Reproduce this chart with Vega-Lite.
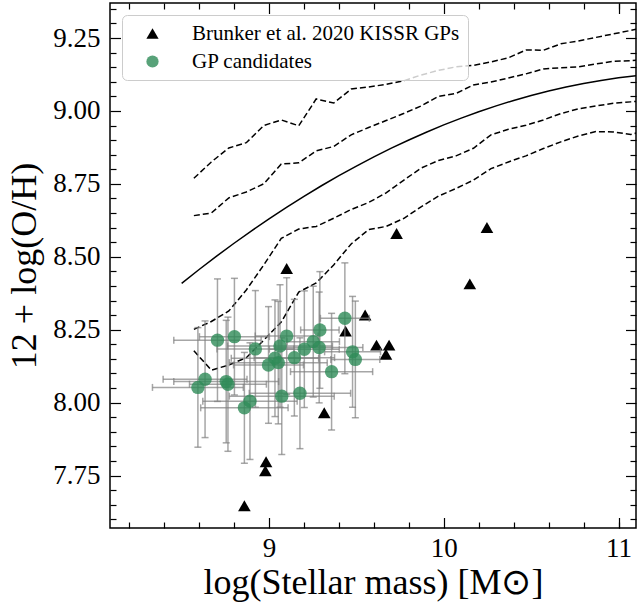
{
  "$schema": "https://vega.github.io/schema/vega-lite/v6.json",
  "width": 526,
  "height": 525,
  "autosize": {"type": "none"},
  "padding": {"left": 110, "top": 3, "right": 1, "bottom": 78},
  "background": "white",
  "config": {
    "view": {"stroke": "black", "strokeWidth": 1.5},
    "font": "Liberation Serif",
    "axis": {
      "domain": false, "grid": false,
      "labelFont": "Liberation Serif", "titleFont": "Liberation Serif",
      "labelColor": "black", "titleColor": "black", "tickColor": "black",
      "labelFontSize": 27, "titleFontSize": 36, "titleFontWeight": "normal",
      "tickWidth": 1.2
    },
    "legend": {
      "orient": "none", "legendX": 12, "legendY": 12,
      "labelFont": "Liberation Serif", "labelFontSize": 21, "labelColor": "black", "labelLimit": 500,
      "symbolSize": 150, "symbolStrokeWidth": 0,
      "padding": 8, "rowPadding": 6, "symbolOffset": 12, "labelOffset": 29,
      "fillColor": "rgba(255,255,255,0.8)", "strokeColor": "#cccccc", "cornerRadius": 5
    }
  },
  "datasets": {
    "fit": [
      {"m": 8.5, "v": 8.4087}, {"m": 8.6, "v": 8.4562}, {"m": 8.7, "v": 8.5020}, {"m": 8.8, "v": 8.5463},
      {"m": 8.9, "v": 8.5889}, {"m": 9.0, "v": 8.6299}, {"m": 9.1, "v": 8.6694}, {"m": 9.2, "v": 8.7072},
      {"m": 9.3, "v": 8.7434}, {"m": 9.4, "v": 8.7780}, {"m": 9.5, "v": 8.8110}, {"m": 9.6, "v": 8.8424},
      {"m": 9.7, "v": 8.8722}, {"m": 9.8, "v": 8.9004}, {"m": 9.9, "v": 8.9270}, {"m": 10.0, "v": 8.9520},
      {"m": 10.1, "v": 8.9754}, {"m": 10.2, "v": 8.9972}, {"m": 10.3, "v": 9.0173}, {"m": 10.4, "v": 9.0359},
      {"m": 10.5, "v": 9.0528}, {"m": 10.6, "v": 9.0682}, {"m": 10.7, "v": 9.0819}, {"m": 10.8, "v": 9.0941},
      {"m": 10.9, "v": 9.1046}, {"m": 11.0, "v": 9.1135}, {"m": 11.1, "v": 9.1209}, {"m": 11.2, "v": 9.1266}
    ],
    "pct": [
      {"m": 8.57, "p": "P2.5", "v": 8.178}, {"m": 8.67, "p": "P2.5", "v": 8.111}, {"m": 8.77, "p": "P2.5", "v": 8.129},
      {"m": 8.87, "p": "P2.5", "v": 8.154}, {"m": 8.97, "p": "P2.5", "v": 8.214}, {"m": 9.07, "p": "P2.5", "v": 8.276},
      {"m": 9.17, "p": "P2.5", "v": 8.379}, {"m": 9.27, "p": "P2.5", "v": 8.410}, {"m": 9.37, "p": "P2.5", "v": 8.472},
      {"m": 9.47, "p": "P2.5", "v": 8.544}, {"m": 9.57, "p": "P2.5", "v": 8.593}, {"m": 9.67, "p": "P2.5", "v": 8.604},
      {"m": 9.77, "p": "P2.5", "v": 8.631}, {"m": 9.87, "p": "P2.5", "v": 8.671}, {"m": 9.97, "p": "P2.5", "v": 8.708},
      {"m": 10.07, "p": "P2.5", "v": 8.734}, {"m": 10.17, "p": "P2.5", "v": 8.763}, {"m": 10.27, "p": "P2.5", "v": 8.802},
      {"m": 10.37, "p": "P2.5", "v": 8.825}, {"m": 10.47, "p": "P2.5", "v": 8.846}, {"m": 10.57, "p": "P2.5", "v": 8.871},
      {"m": 10.67, "p": "P2.5", "v": 8.894}, {"m": 10.77, "p": "P2.5", "v": 8.914}, {"m": 10.87, "p": "P2.5", "v": 8.929},
      {"m": 10.97, "p": "P2.5", "v": 8.928}, {"m": 11.07, "p": "P2.5", "v": 8.919}, {"m": 11.17, "p": "P2.5", "v": 8.935},

      {"m": 8.57, "p": "P16", "v": 8.251}, {"m": 8.67, "p": "P16", "v": 8.278}, {"m": 8.77, "p": "P16", "v": 8.314},
      {"m": 8.87, "p": "P16", "v": 8.386}, {"m": 8.97, "p": "P16", "v": 8.472}, {"m": 9.07, "p": "P16", "v": 8.563},
      {"m": 9.17, "p": "P16", "v": 8.595}, {"m": 9.27, "p": "P16", "v": 8.604}, {"m": 9.37, "p": "P16", "v": 8.632},
      {"m": 9.47, "p": "P16", "v": 8.662}, {"m": 9.57, "p": "P16", "v": 8.686}, {"m": 9.67, "p": "P16", "v": 8.719},
      {"m": 9.77, "p": "P16", "v": 8.762}, {"m": 9.87, "p": "P16", "v": 8.804}, {"m": 9.97, "p": "P16", "v": 8.830},
      {"m": 10.07, "p": "P16", "v": 8.846}, {"m": 10.17, "p": "P16", "v": 8.872}, {"m": 10.27, "p": "P16", "v": 8.918},
      {"m": 10.37, "p": "P16", "v": 8.937}, {"m": 10.47, "p": "P16", "v": 8.951}, {"m": 10.57, "p": "P16", "v": 8.969},
      {"m": 10.67, "p": "P16", "v": 8.991}, {"m": 10.77, "p": "P16", "v": 9.007}, {"m": 10.87, "p": "P16", "v": 9.017},
      {"m": 10.97, "p": "P16", "v": 9.026}, {"m": 11.07, "p": "P16", "v": 9.031}, {"m": 11.17, "p": "P16", "v": 9.036},

      {"m": 8.57, "p": "P84", "v": 8.641}, {"m": 8.67, "p": "P84", "v": 8.650}, {"m": 8.77, "p": "P84", "v": 8.702},
      {"m": 8.87, "p": "P84", "v": 8.722}, {"m": 8.97, "p": "P84", "v": 8.750}, {"m": 9.07, "p": "P84", "v": 8.818},
      {"m": 9.17, "p": "P84", "v": 8.822}, {"m": 9.27, "p": "P84", "v": 8.863}, {"m": 9.37, "p": "P84", "v": 8.878},
      {"m": 9.47, "p": "P84", "v": 8.918}, {"m": 9.57, "p": "P84", "v": 8.943}, {"m": 9.67, "p": "P84", "v": 8.967},
      {"m": 9.77, "p": "P84", "v": 8.991}, {"m": 9.87, "p": "P84", "v": 9.017}, {"m": 9.97, "p": "P84", "v": 9.050},
      {"m": 10.07, "p": "P84", "v": 9.060}, {"m": 10.17, "p": "P84", "v": 9.089}, {"m": 10.27, "p": "P84", "v": 9.099},
      {"m": 10.37, "p": "P84", "v": 9.113}, {"m": 10.47, "p": "P84", "v": 9.127}, {"m": 10.57, "p": "P84", "v": 9.144},
      {"m": 10.67, "p": "P84", "v": 9.148}, {"m": 10.77, "p": "P84", "v": 9.151}, {"m": 10.87, "p": "P84", "v": 9.161},
      {"m": 10.97, "p": "P84", "v": 9.170}, {"m": 11.07, "p": "P84", "v": 9.172}, {"m": 11.17, "p": "P84", "v": 9.178},

      {"m": 8.57, "p": "P97.5", "v": 8.769}, {"m": 8.67, "p": "P97.5", "v": 8.825}, {"m": 8.77, "p": "P97.5", "v": 8.873},
      {"m": 8.87, "p": "P97.5", "v": 8.891}, {"m": 8.97, "p": "P97.5", "v": 8.950}, {"m": 9.07, "p": "P97.5", "v": 8.969},
      {"m": 9.17, "p": "P97.5", "v": 8.949}, {"m": 9.27, "p": "P97.5", "v": 9.041}, {"m": 9.37, "p": "P97.5", "v": 9.027},
      {"m": 9.47, "p": "P97.5", "v": 9.075}, {"m": 9.57, "p": "P97.5", "v": 9.082}, {"m": 9.67, "p": "P97.5", "v": 9.091},
      {"m": 9.77, "p": "P97.5", "v": 9.103}, {"m": 9.87, "p": "P97.5", "v": 9.123}, {"m": 9.97, "p": "P97.5", "v": 9.139},
      {"m": 10.07, "p": "P97.5", "v": 9.151}, {"m": 10.17, "p": "P97.5", "v": 9.156}, {"m": 10.27, "p": "P97.5", "v": 9.168},
      {"m": 10.37, "p": "P97.5", "v": 9.182}, {"m": 10.47, "p": "P97.5", "v": 9.209}, {"m": 10.57, "p": "P97.5", "v": 9.208},
      {"m": 10.67, "p": "P97.5", "v": 9.230}, {"m": 10.77, "p": "P97.5", "v": 9.240}, {"m": 10.87, "p": "P97.5", "v": 9.252},
      {"m": 10.97, "p": "P97.5", "v": 9.264}, {"m": 11.07, "p": "P97.5", "v": 9.276}, {"m": 11.17, "p": "P97.5", "v": 9.290}
    ],
    "brunker": [
      {"x": 9.101, "y": 8.460, "group": "Brunker et al. 2020 KISSR GPs"},
      {"x": 8.859, "y": 7.646, "group": "Brunker et al. 2020 KISSR GPs"},
      {"x": 8.983, "y": 7.797, "group": "Brunker et al. 2020 KISSR GPs"},
      {"x": 8.979, "y": 7.766, "group": "Brunker et al. 2020 KISSR GPs"},
      {"x": 9.316, "y": 7.965, "group": "Brunker et al. 2020 KISSR GPs"},
      {"x": 9.438, "y": 8.245, "group": "Brunker et al. 2020 KISSR GPs"},
      {"x": 9.550, "y": 8.300, "group": "Brunker et al. 2020 KISSR GPs"},
      {"x": 9.615, "y": 8.197, "group": "Brunker et al. 2020 KISSR GPs"},
      {"x": 9.687, "y": 8.197, "group": "Brunker et al. 2020 KISSR GPs"},
      {"x": 9.669, "y": 8.166, "group": "Brunker et al. 2020 KISSR GPs"},
      {"x": 10.149, "y": 8.407, "group": "Brunker et al. 2020 KISSR GPs"},
      {"x": 9.730, "y": 8.580, "group": "Brunker et al. 2020 KISSR GPs"},
      {"x": 10.247, "y": 8.600, "group": "Brunker et al. 2020 KISSR GPs"}
    ],
    "gp": [
      {"x": 8.705, "y": 8.214, "xlo": 8.455, "xhi": 8.955, "ylo": 8.004, "yhi": 8.424, "group": "GP candidates"},
      {"x": 8.802, "y": 8.226, "xlo": 8.602, "xhi": 9.002, "ylo": 8.026, "yhi": 8.426, "group": "GP candidates"},
      {"x": 8.922, "y": 8.184, "xlo": 8.702, "xhi": 9.142, "ylo": 7.984, "yhi": 8.384, "group": "GP candidates"},
      {"x": 9.063, "y": 8.194, "xlo": 8.763, "xhi": 9.363, "ylo": 7.984, "yhi": 8.404, "group": "GP candidates"},
      {"x": 9.101, "y": 8.228, "xlo": 8.921, "xhi": 9.281, "ylo": 8.028, "yhi": 8.428, "group": "GP candidates"},
      {"x": 9.034, "y": 8.152, "xlo": 8.784, "xhi": 9.284, "ylo": 7.952, "yhi": 8.352, "group": "GP candidates"},
      {"x": 8.997, "y": 8.129, "xlo": 8.797, "xhi": 9.197, "ylo": 7.929, "yhi": 8.329, "group": "GP candidates"},
      {"x": 9.053, "y": 8.137, "xlo": 8.773, "xhi": 9.333, "ylo": 7.927, "yhi": 8.347, "group": "GP candidates"},
      {"x": 9.145, "y": 8.154, "xlo": 8.915, "xhi": 9.375, "ylo": 7.954, "yhi": 8.354, "group": "GP candidates"},
      {"x": 9.202, "y": 8.183, "xlo": 9.002, "xhi": 9.402, "ylo": 7.983, "yhi": 8.383, "group": "GP candidates"},
      {"x": 9.253, "y": 8.209, "xlo": 9.103, "xhi": 9.403, "ylo": 8.019, "yhi": 8.399, "group": "GP candidates"},
      {"x": 9.287, "y": 8.189, "xlo": 9.037, "xhi": 9.537, "ylo": 7.999, "yhi": 8.379, "group": "GP candidates"},
      {"x": 9.291, "y": 8.249, "xlo": 9.181, "xhi": 9.401, "ylo": 8.049, "yhi": 8.449, "group": "GP candidates"},
      {"x": 9.434, "y": 8.289, "xlo": 9.294, "xhi": 9.574, "ylo": 8.099, "yhi": 8.479, "group": "GP candidates"},
      {"x": 9.478, "y": 8.174, "xlo": 9.318, "xhi": 9.638, "ylo": 7.984, "yhi": 8.364, "group": "GP candidates"},
      {"x": 9.494, "y": 8.148, "xlo": 9.354, "xhi": 9.634, "ylo": 7.948, "yhi": 8.348, "group": "GP candidates"},
      {"x": 9.358, "y": 8.106, "xlo": 9.123, "xhi": 9.593, "ylo": 7.906, "yhi": 8.306, "group": "GP candidates"},
      {"x": 8.634, "y": 8.080, "xlo": 8.394, "xhi": 8.874, "ylo": 7.880, "yhi": 8.280, "group": "GP candidates"},
      {"x": 8.593, "y": 8.052, "xlo": 8.333, "xhi": 8.853, "ylo": 7.847, "yhi": 8.257, "group": "GP candidates"},
      {"x": 8.755, "y": 8.072, "xlo": 8.455, "xhi": 9.055, "ylo": 7.862, "yhi": 8.282, "group": "GP candidates"},
      {"x": 8.765, "y": 8.063, "xlo": 8.545, "xhi": 8.985, "ylo": 7.833, "yhi": 8.293, "group": "GP candidates"},
      {"x": 8.891, "y": 8.005, "xlo": 8.621, "xhi": 9.161, "ylo": 7.805, "yhi": 8.205, "group": "GP candidates"},
      {"x": 8.859, "y": 7.982, "xlo": 8.609, "xhi": 9.109, "ylo": 7.792, "yhi": 8.172, "group": "GP candidates"},
      {"x": 9.073, "y": 8.022, "xlo": 8.773, "xhi": 9.373, "ylo": 7.822, "yhi": 8.222, "group": "GP candidates"},
      {"x": 9.177, "y": 8.032, "xlo": 8.887, "xhi": 9.467, "ylo": 7.842, "yhi": 8.222, "group": "GP candidates"}
    ]
  },
  "layer": [
    {
      "data": {"name": "fit"},
      "mark": {"type": "line", "color": "black", "strokeWidth": 1.5, "clip": true},
      "encoding": {
        "x": {"field": "m", "type": "quantitative", "scale": {"domain": [8.09, 11.1], "nice": false, "zero": false},
              "axis": {"orient": "bottom", "values": [9, 10, 11], "ticks": false, "labelPadding": 7, "labelFont": "Liberation Serif", "labelFontSize": 27, "titleFont": "Liberation Serif", "title": "log(Stellar mass) [M⊙]", "titlePadding": 4}},
        "y": {"field": "v", "type": "quantitative", "scale": {"domain": [7.57, 9.37], "nice": false, "zero": false},
              "axis": {"orient": "left", "values": [7.75, 8.0, 8.25, 8.5, 8.75, 9.0, 9.25], "format": ".2f", "ticks": false, "labelPadding": 10, "labelFont": "Liberation Serif", "labelFontSize": 27, "titleFont": "Liberation Serif", "title": "12 + log(O/H)", "titlePadding": 9}}
      }
    },
    {
      "data": {"name": "pct"},
      "mark": {"type": "line", "color": "black", "strokeWidth": 1.5, "strokeDash": [6, 3], "clip": true},
      "encoding": {
        "x": {"field": "m", "type": "quantitative", "axis": null},
        "y": {"field": "v", "type": "quantitative", "axis": null},
        "detail": {"field": "p", "type": "nominal"}
      }
    },
    {
      "data": {"name": "brunker"},
      "mark": {"type": "point", "filled": true, "size": 160, "strokeWidth": 0},
      "encoding": {
        "x": {"field": "x", "type": "quantitative", "axis": null},
        "y": {"field": "y", "type": "quantitative", "axis": null},
        "color": {"field": "group", "type": "nominal", "scale": {"domain": ["Brunker et al. 2020 KISSR GPs", "GP candidates"], "range": ["black", "#2e8b57"]}, "legend": {"title": null}},
        "shape": {"field": "group", "type": "nominal", "scale": {"domain": ["Brunker et al. 2020 KISSR GPs", "GP candidates"], "range": ["triangle-up", "circle"]}, "legend": {"title": null}},
        "opacity": {"field": "group", "type": "nominal", "scale": {"domain": ["Brunker et al. 2020 KISSR GPs", "GP candidates"], "range": [1, 0.8]}, "legend": {"title": null}}
      }
    },
    {
      "data": {"name": "gp"},
      "mark": {"type": "rule", "color": "gray", "opacity": 0.7, "strokeWidth": 1.5},
      "encoding": {
        "x": {"field": "xlo", "type": "quantitative", "axis": null},
        "x2": {"field": "xhi"},
        "y": {"field": "y", "type": "quantitative", "axis": null}
      }
    },
    {
      "data": {"name": "gp"},
      "mark": {"type": "rule", "color": "gray", "opacity": 0.7, "strokeWidth": 1.5},
      "encoding": {
        "x": {"field": "x", "type": "quantitative", "axis": null},
        "y": {"field": "ylo", "type": "quantitative", "axis": null},
        "y2": {"field": "yhi"}
      }
    },
    {
      "data": {"name": "gp"},
      "mark": {"type": "tick", "orient": "vertical", "color": "gray", "opacity": 0.7, "size": 7, "thickness": 1.5},
      "encoding": {
        "x": {"field": "xlo", "type": "quantitative", "axis": null},
        "y": {"field": "y", "type": "quantitative", "axis": null}
      }
    },
    {
      "data": {"name": "gp"},
      "mark": {"type": "tick", "orient": "vertical", "color": "gray", "opacity": 0.7, "size": 7, "thickness": 1.5},
      "encoding": {
        "x": {"field": "xhi", "type": "quantitative", "axis": null},
        "y": {"field": "y", "type": "quantitative", "axis": null}
      }
    },
    {
      "data": {"name": "gp"},
      "mark": {"type": "tick", "orient": "horizontal", "color": "gray", "opacity": 0.7, "size": 7, "thickness": 1.5},
      "encoding": {
        "x": {"field": "x", "type": "quantitative", "axis": null},
        "y": {"field": "ylo", "type": "quantitative", "axis": null}
      }
    },
    {
      "data": {"name": "gp"},
      "mark": {"type": "tick", "orient": "horizontal", "color": "gray", "opacity": 0.7, "size": 7, "thickness": 1.5},
      "encoding": {
        "x": {"field": "x", "type": "quantitative", "axis": null},
        "y": {"field": "yhi", "type": "quantitative", "axis": null}
      }
    },
    {
      "data": {"name": "gp"},
      "mark": {"type": "point", "filled": true, "size": 180, "strokeWidth": 0},
      "encoding": {
        "x": {"field": "x", "type": "quantitative", "axis": null},
        "y": {"field": "y", "type": "quantitative", "axis": null},
        "color": {"field": "group", "type": "nominal", "scale": {"domain": ["Brunker et al. 2020 KISSR GPs", "GP candidates"], "range": ["black", "#2e8b57"]}, "legend": {"title": null}},
        "shape": {"field": "group", "type": "nominal", "scale": {"domain": ["Brunker et al. 2020 KISSR GPs", "GP candidates"], "range": ["triangle-up", "circle"]}, "legend": {"title": null}},
        "opacity": {"field": "group", "type": "nominal", "scale": {"domain": ["Brunker et al. 2020 KISSR GPs", "GP candidates"], "range": [1, 0.8]}, "legend": {"title": null}}
      }
    },
    {
      "data": {"name": "fit"},
      "mark": {"type": "point", "opacity": 0},
      "encoding": {
        "x": {"field": "m", "type": "quantitative", "axis": {"orient": "bottom", "values": [9, 10, 11], "labels": false, "ticks": true, "tickSize": -10.5, "title": null}},
        "y": {"field": "v", "type": "quantitative", "axis": {"orient": "left", "values": [7.75, 8.0, 8.25, 8.5, 8.75, 9.0, 9.25], "labels": false, "ticks": true, "tickSize": -10.5, "title": null}}
      }
    },
    {
      "data": {"name": "fit"},
      "mark": {"type": "point", "opacity": 0},
      "encoding": {
        "x": {"field": "m", "type": "quantitative", "axis": {"orient": "bottom", "values": [8.2, 8.4, 8.6, 8.8, 9.2, 9.4, 9.6, 9.8, 10.2, 10.4, 10.6, 10.8, 11.0], "labels": false, "ticks": true, "tickSize": -6, "title": null}},
        "y": {"field": "v", "type": "quantitative", "axis": {"orient": "left", "values": [7.6, 7.65, 7.7, 7.8, 7.85, 7.9, 7.95, 8.05, 8.1, 8.15, 8.2, 8.3, 8.35, 8.4, 8.45, 8.55, 8.6, 8.65, 8.7, 8.8, 8.85, 8.9, 8.95, 9.05, 9.1, 9.15, 9.2, 9.3, 9.35], "labels": false, "ticks": true, "tickSize": -6, "title": null}}
      }
    },
    {
      "data": {"name": "fit"},
      "mark": {"type": "point", "opacity": 0},
      "encoding": {
        "x": {"field": "m", "type": "quantitative", "axis": {"orient": "top", "values": [9, 10, 11], "labels": false, "ticks": true, "tickSize": -10.5, "title": null}},
        "y": {"field": "v", "type": "quantitative", "axis": {"orient": "right", "values": [7.75, 8.0, 8.25, 8.5, 8.75, 9.0, 9.25], "labels": false, "ticks": true, "tickSize": -10.5, "title": null}}
      }
    },
    {
      "data": {"name": "fit"},
      "mark": {"type": "point", "opacity": 0},
      "encoding": {
        "x": {"field": "m", "type": "quantitative", "axis": {"orient": "top", "values": [8.2, 8.4, 8.6, 8.8, 9.2, 9.4, 9.6, 9.8, 10.2, 10.4, 10.6, 10.8, 11.0], "labels": false, "ticks": true, "tickSize": -6, "title": null}},
        "y": {"field": "v", "type": "quantitative", "axis": {"orient": "right", "values": [7.6, 7.65, 7.7, 7.8, 7.85, 7.9, 7.95, 8.05, 8.1, 8.15, 8.2, 8.3, 8.35, 8.4, 8.45, 8.55, 8.6, 8.65, 8.7, 8.8, 8.85, 8.9, 8.95, 9.05, 9.1, 9.15, 9.2, 9.3, 9.35], "labels": false, "ticks": true, "tickSize": -6, "title": null}}
      }
    }
  ],
  "resolve": {"axis": {"x": "independent", "y": "independent"}}
}
